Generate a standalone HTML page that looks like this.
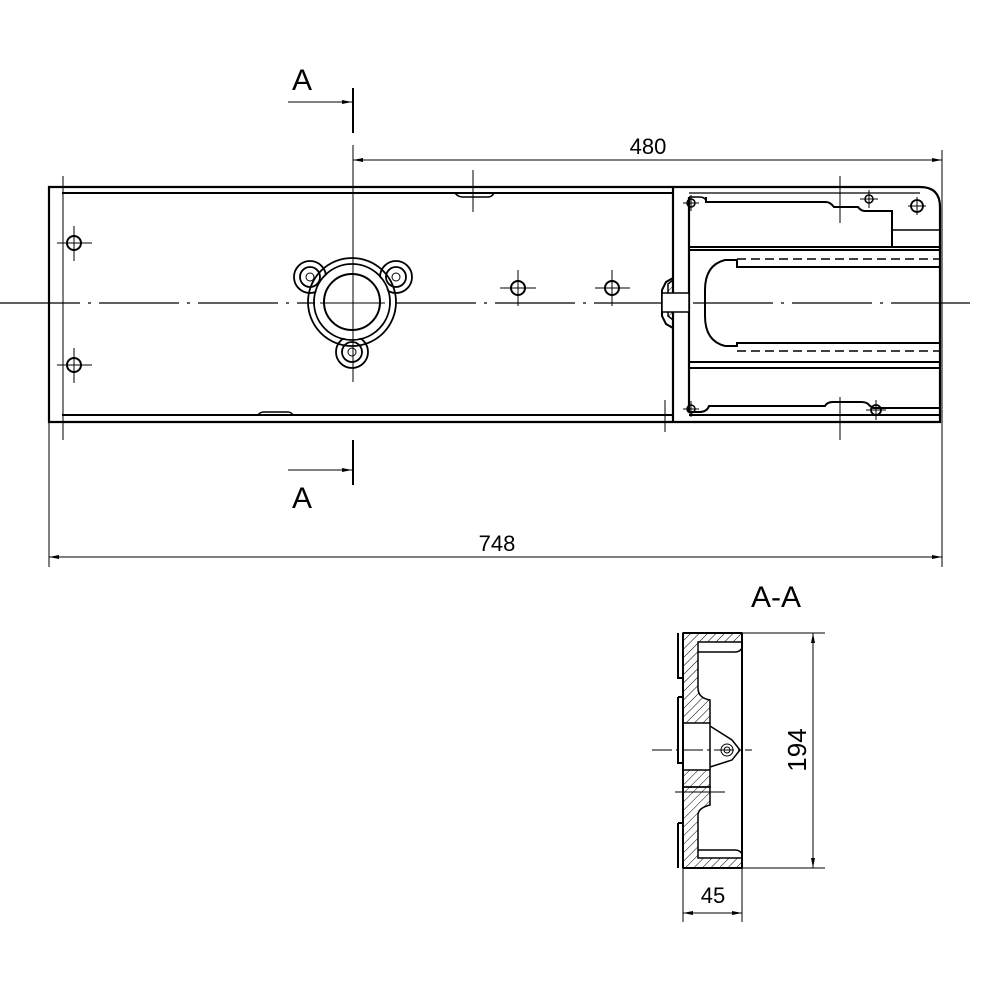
<!DOCTYPE html>
<html><head><meta charset="utf-8"><style>
html,body{margin:0;padding:0;background:#fff;}
svg{display:block}
text{font-family:"Liberation Sans",sans-serif;fill:#000}
</style></head><body>
<svg width="1000" height="1000" viewBox="0 0 1000 1000" xmlns="http://www.w3.org/2000/svg">
<defs>
<pattern id="h" width="6" height="6" patternUnits="userSpaceOnUse" patternTransform="rotate(45)"><line x1="0" y1="0" x2="0" y2="6" stroke="#000" stroke-width="1"/></pattern>
<marker id="ar" markerWidth="10" markerHeight="6" refX="10" refY="3" orient="auto" markerUnits="userSpaceOnUse"><path d="M0,1 L10,3 L0,5z" fill="#000"/></marker>
<marker id="al" markerWidth="10" markerHeight="6" refX="0" refY="3" orient="auto" markerUnits="userSpaceOnUse"><path d="M10,1 L0,3 L10,5z" fill="#000"/></marker>
</defs>
<g fill="none" stroke="#000">
<line x1="0" y1="303" x2="970" y2="303" stroke-width="1.2" stroke-dasharray="80,8,3,8"/>
<path d="M49,187 H920 Q940,187 940,207 V422 H49 Z" stroke-width="2.2"/>
<line x1="62" y1="193" x2="672" y2="193" stroke-width="2"/>
<line x1="62" y1="415" x2="672" y2="415" stroke-width="2"/>
<path d="M455,193 q3,4 8,4 h25 q4,0 6,-4" stroke-width="1.5"/>
<path d="M258,415 q2,-3 6,-3 h24 q3,0 5,3" stroke-width="1.5"/>
<line x1="673" y1="187" x2="673" y2="422" stroke-width="2.2"/>
<line x1="689" y1="197" x2="689" y2="412" stroke-width="2.2"/>
<line x1="49" y1="187" x2="49" y2="567" stroke-width="1"/>
<line x1="942" y1="150" x2="942" y2="567" stroke-width="1"/>
<line x1="63" y1="176" x2="63" y2="440" stroke-width="1"/>
<line x1="665" y1="400" x2="665" y2="432" stroke-width="1"/>
<line x1="473" y1="170" x2="473" y2="212" stroke-width="1"/>
<line x1="353" y1="160" x2="942" y2="160" stroke-width="1" marker-start="url(#al)" marker-end="url(#ar)"/>
<line x1="49" y1="557" x2="942" y2="557" stroke-width="1" marker-start="url(#al)" marker-end="url(#ar)"/>
<line x1="353" y1="88" x2="353" y2="133" stroke-width="2"/>
<line x1="288" y1="102" x2="352" y2="102" stroke-width="1" marker-end="url(#ar)"/>
<line x1="353" y1="440" x2="353" y2="485" stroke-width="2"/>
<line x1="288" y1="470" x2="352" y2="470" stroke-width="1" marker-end="url(#ar)"/>
<line x1="353" y1="145" x2="353" y2="382" stroke-width="1"/>
<circle cx="74" cy="243" r="7" stroke-width="2"/><path d="M57,243h35M74,226v35" stroke-width="1"/>
<circle cx="74" cy="365" r="7" stroke-width="2"/><path d="M57,365h35M74,348v35" stroke-width="1"/>
<circle cx="518" cy="288" r="7" stroke-width="2"/><path d="M500,288h36M518,270v36" stroke-width="1"/>
<circle cx="612" cy="288" r="7" stroke-width="2"/><path d="M595,288h35M612,270v36" stroke-width="1"/>
<circle cx="352" cy="302" r="38" stroke-width="1.8"/>
<circle cx="352" cy="302" r="44" stroke-width="1.8"/>
<circle cx="310" cy="277" r="10" stroke-width="1.8"/>
<circle cx="310" cy="277" r="16" stroke-width="1.8"/>
<circle cx="396" cy="277" r="10" stroke-width="1.8"/>
<circle cx="396" cy="277" r="16" stroke-width="1.8"/>
<circle cx="352" cy="352" r="10" stroke-width="1.8"/>
<circle cx="352" cy="352" r="16" stroke-width="1.8"/>
<circle cx="310" cy="277" r="4" stroke-width="1"/><circle cx="396" cy="277" r="4" stroke-width="1"/><circle cx="352" cy="352" r="4" stroke-width="1"/>
</g>
<circle cx="352" cy="302" r="37" fill="#fff"/>
<g fill="none" stroke="#000">
<circle cx="352" cy="302" r="28" stroke-width="2"/>
<line x1="353" y1="255" x2="353" y2="382" stroke-width="1"/>
<line x1="320" y1="303" x2="385" y2="303" stroke-width="1"/>
<!-- right mechanism -->
<path d="M689,197 h10 q7,0 7,5" stroke-width="1.5"/>
<path d="M706,197 V202 H826 q4,0 8,5 H858 q3,4 7,4 H892 V247" stroke-width="2"/>
<line x1="689" y1="193" x2="920" y2="193" stroke-width="1.2"/>
<line x1="892" y1="230" x2="940" y2="230" stroke-width="1.5"/>
<line x1="689" y1="247" x2="940" y2="247" stroke-width="2"/>
<line x1="689" y1="250" x2="940" y2="250" stroke-width="2"/>
<line x1="737" y1="259" x2="940" y2="259" stroke-width="1.5" stroke-dasharray="9,5"/>
<line x1="737" y1="351" x2="940" y2="351" stroke-width="1.5" stroke-dasharray="9,5"/>
<path d="M940,267 H737 V260 h-12 q-20,5 -20,30 v26 q0,25 20,30 h12 v-3 H940" stroke-width="2"/>
<line x1="689" y1="362" x2="940" y2="362" stroke-width="2"/>
<line x1="689" y1="368" x2="940" y2="368" stroke-width="2"/>
<path d="M689,412 h10 q8,0 10,-6 h116 q2,-4 8,-4 h28 q6,0 8,3 l4,3 h67" stroke-width="2"/>
<line x1="689" y1="415" x2="940" y2="415" stroke-width="2"/>
<circle cx="691" cy="203" r="4" stroke-width="1.5"/><path d="M683,203h16M691,195v16" stroke-width="1"/>
<circle cx="869" cy="199" r="4" stroke-width="1.5"/><path d="M860,199h18M869,190v18" stroke-width="1"/>
<circle cx="917" cy="206" r="6" stroke-width="1.8"/><path d="M908,206h18M917,197v18" stroke-width="1"/>
<circle cx="691" cy="409" r="4" stroke-width="1.5"/><path d="M683,409h16M691,401v16" stroke-width="1"/>
<circle cx="876" cy="410" r="5" stroke-width="1.8"/><path d="M866,410h20M876,400v20" stroke-width="1"/>
<line x1="840" y1="176" x2="840" y2="223" stroke-width="1"/>
<line x1="840" y1="397" x2="840" y2="440" stroke-width="1"/>
<path d="M673,280 l-5,4 v32 l5,4 z" fill="url(#h)" stroke-width="1.5"/>
<path d="M673,278 l-7,4 l-4,8 v26 l4,8 l7,4" stroke-width="2"/>
<rect x="662" y="293" width="27" height="19" fill="#fff" stroke-width="1.5"/>
<!-- Section A-A -->
<path d="M683,633 H742 V642 H698 V688 Q698,698 710,700 V723 H683 Z" fill="url(#h)" stroke-width="1.5"/>
<path d="M683,770 H710 V787 H683 Z" fill="url(#h)" stroke-width="1.5"/>
<path d="M683,787 H710 V805 Q698,808 698,815 V858 H742 V868 H683 Z" fill="url(#h)" stroke-width="1.5"/>
<path d="M683,723 V770" stroke-width="2"/>
<path d="M683,633 V868" stroke-width="2"/>
<path d="M742,633 V868" stroke-width="2"/>
<path d="M683,633 H742 M683,868 H742" stroke-width="2"/>
<path d="M710,723 V770" stroke-width="1.5"/>
<path d="M710,726 L732,740 L740,750 L732,760 L710,767" stroke-width="1.5"/>
<path d="M698,652 H735 q5,0 7,-4 M698,850 H735 q5,0 7,4" stroke-width="1.5"/>
<path d="M678,633 v45 h5 M678,697 h5 M678,697 v66 h5 M678,823 h5 M678,823 v45" stroke-width="2"/>
<circle cx="727" cy="750" r="6" stroke-width="1"/><circle cx="727" cy="750" r="3" stroke-width="1"/>
<line x1="652" y1="750" x2="752" y2="750" stroke-width="1" stroke-dasharray="20,4,3,4"/>
<line x1="675" y1="792" x2="725" y2="792" stroke-width="1"/>
<line x1="742" y1="633" x2="825" y2="633" stroke-width="1"/>
<line x1="742" y1="868" x2="825" y2="868" stroke-width="1"/>
<line x1="813" y1="633" x2="813" y2="868" stroke-width="1" marker-start="url(#al)" marker-end="url(#ar)"/>
<line x1="683" y1="868" x2="683" y2="922" stroke-width="1"/>
<line x1="742" y1="868" x2="742" y2="922" stroke-width="1"/>
<line x1="683" y1="913" x2="742" y2="913" stroke-width="1" marker-start="url(#al)" marker-end="url(#ar)"/>
</g>
<text x="302" y="90" font-size="30" text-anchor="middle">A</text>
<text x="302" y="508" font-size="30" text-anchor="middle">A</text>
<text x="648" y="154" font-size="22" text-anchor="middle">480</text>
<text x="497" y="551" font-size="22" text-anchor="middle">748</text>
<text x="776" y="607" font-size="30" text-anchor="middle">A-A</text>
<text x="713" y="903" font-size="22" text-anchor="middle">45</text>
<text transform="translate(806,750) rotate(-90)" font-size="26" text-anchor="middle">194</text>
</svg>
</body></html>
